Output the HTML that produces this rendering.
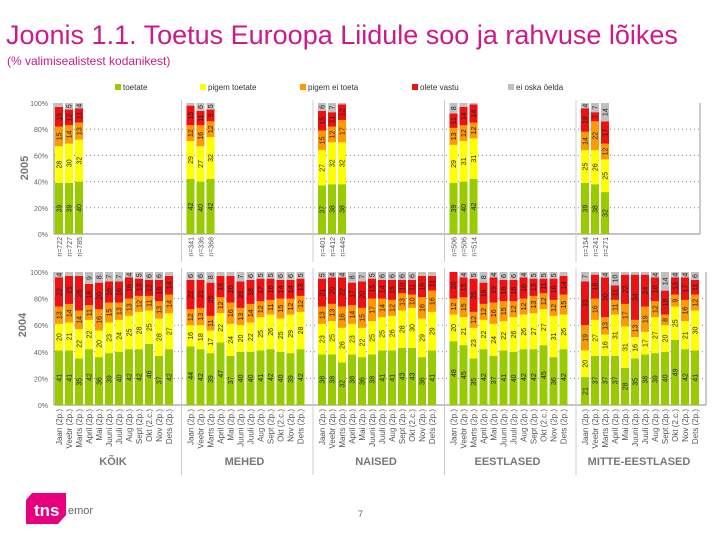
<!DOCTYPE html>
<html><head><meta charset="utf-8"><style>
body{margin:0;background:#fff;width:720px;height:540px;overflow:hidden;font-family:"Liberation Sans",sans-serif}
</style></head><body>
<svg id="c" width="720" height="540" xmlns="http://www.w3.org/2000/svg" font-family="Liberation Sans, sans-serif">
<text x="6" y="44" font-size="27" fill="#cc1a8a">Joonis 1.1. Toetus Euroopa Liidule soo ja rahvuse lõikes</text>
<text x="7" y="65" font-size="12" fill="#cc1a8a">(% valimisealistest kodanikest)</text>
<g id="legend"></g>
<g id="top"></g>
<g id="bot"></g>
<g>
<path d="M32 493 L66 493 L66 515 L58 524 L26 524 L26 500 Z" fill="#e6007e"/>
<text x="34" y="516" font-size="17" font-weight="bold" fill="#fff">tns</text>
<text x="68" y="514" font-size="11" fill="#666">emor</text>
</g>
<text x="358" y="517" font-size="9" fill="#666">7</text>
</svg>
<script>
const groups=["KÕIK","MEHED","NAISED","EESTLASED","MITTE-EESTLASED"];
const seriesNames=["toetate","pigem toetate","pigem ei toeta","olete vastu","ei oska öelda"];
const colors=["#99cc00","#ffff00","#ff9900","#ee1111","#c0c0c0"];
const yTicks=[0,20,40,60,80,100];
const months=["Jaan (2p.)","Veebr (2p.)","Marts (2p.)","April (2p.)","Mai (2p.)","Juuni (2p.)","Juuli (2p.)","Aug (2p.)","Sept (2p.)","Okt (2.c.)","Nov (2p.)","Dets (2p.)"];
const nLabels=[["n=722","n=727","n=785"],["n=341","n=336","n=368"],["n=401","n=412","n=449"],["n=506","n=506","n=514"],["n=154","n=241","n=271"]];
// 2005: per group, per bar [toetate, pigem toetate, pigem ei toeta, olete vastu]
const top2005=[
[[39,28,15,15],[39,30,14,12],[40,32,13,11]],
[[42,29,12,15],[40,27,16,11],[42,32,12,9]],
[[37,27,15,15],[38,32,12,11],[38,32,17,12]],
[[39,29,13,11],[40,31,12,14],[42,31,12,14]],
[[39,25,14,18],[38,26,22,7],[32,25,12,17]]];
const g2004=[[41,41,35,42,36,39,40,42,42,46,37,42],[44,42,39,47,37,40,40,41,42,40,39,42],[38,38,32,38,36,38,41,41,43,43,36,41],[48,45,35,42,37,41,40,42,42,45,36,42],[21,37,37,37,28,35,38,39,40,49,42,41]];
const y2004=[[20,21,22,22,20,23,24,25,28,25,28,27],[16,18,17,22,24,20,22,25,26,25,29,28],[23,25,26,23,22,25,25,26,28,30,29,29],[20,21,23,22,24,22,26,26,27,27,31,26],[20,27,16,31,31,16,17,27,20,25,21,30]];
const o2004=[[13,14,14,11,16,15,13,13,12,11,13,14],[12,13,11,12,16,13,14,12,11,15,12,12],[13,13,16,14,15,17,14,12,13,10,16,16],[12,15,12,12,16,15,12,12,13,12,12,15],[19,16,13,11,17,13,19,12,8,9,16,12]];
const r2004=[[22,21,26,16,20,16,16,16,13,12,16,14],[22,21,25,16,20,20,18,17,16,14,14,13],[21,20,22,17,20,15,14,15,10,11,16,11],[20,15,25,16,19,16,16,16,13,11,16,14],[33,18,30,11,22,34,24,18,18,13,17,11]];

const NS="http://www.w3.org/2000/svg";
function mk(p,t,a){const e=document.createElementNS(NS,t);for(const k in a)e.setAttribute(k,a[k]);p.appendChild(e);return e;}
const gx=i=>55+131.5*i, slot=10, bw=8;
function yScale(top,bot){return v=>bot-(bot-top)*v/100;}

function axes(g,top,bot,right){
 const y=yScale(top,bot);
 yTicks.forEach(t=>{
  if(t>0&&t<100){const l=mk(g,'line',{x1:54,x2:right,y1:y(t),y2:y(t),stroke:'#888','stroke-dasharray':'1,3'});
   }
  const tx=mk(g,'text',{x:48,y:y(t)+3,'font-size':7,fill:'#666','text-anchor':'end'});tx.textContent=t+'%';
  
 });
 mk(g,'line',{x1:54,x2:54,y1:top,y2:bot,stroke:'#888'});
 mk(g,'line',{x1:54,x2:right,y1:bot,y2:bot,stroke:'#888'});
 mk(g,'line',{x1:right,x2:right,y1:top,y2:bot,stroke:'#999'});
}
function bar(g,x,vals,y){
 let acc=0;const full=vals.concat([Math.max(0,100-vals.reduce((a,b)=>a+b,0))]);
 full.forEach((v,s)=>{
  const r=mk(g,'rect',{x:x,y:y(acc+v),width:bw,height:y(acc)-y(acc+v),fill:colors[s]});
  
  if(v>=4){const cx=x+bw/2+2.5,cy=(y(acc)+y(acc+v))/2;
   const t=mk(g,'text',{x:cx,y:cy,'font-size':7,fill:'#222','text-anchor':'middle',transform:`rotate(-90 ${cx} ${cy})`});
   t.textContent=v;}
  acc+=v;
 });
}
// legend
const lg=document.getElementById('legend');
[115,200,300,412,508].forEach((lx,i)=>{
 const r=mk(lg,'rect',{x:lx,y:84,width:6,height:6,fill:colors[i]});
 
 const t=mk(lg,'text',{x:lx+8,y:90,'font-size':8,fill:'#333'});t.textContent=seriesNames[i];
 
});
// top
const tg=document.getElementById('top');const yt=yScale(103,234);
axes(tg,103,234,700);
top2005.forEach((grp,gi)=>grp.forEach((v,bi)=>{
 const x=gx(gi)+bi*slot;bar(tg,x,v,yt);
 const cx=x+bw/2+3,cy=237;
 const t=mk(tg,'text',{x:cx,y:cy,'font-size':7,fill:'#555','text-anchor':'end',transform:`rotate(-90 ${cx} ${cy})`});
 t.textContent=nLabels[gi][bi];
}));
const yl1=mk(tg,'text',{x:28,y:168,'font-size':11,'font-weight':'bold',fill:'#777','text-anchor':'middle',transform:'rotate(-90 28 168)'});yl1.textContent='2005';

// bottom
const bg=document.getElementById('bot');const yb=yScale(272,405);
axes(bg,272,405,706);
[1,2,3,4].forEach(i=>{const l=mk(bg,'line',{x1:gx(i)-5,x2:gx(i)-5,y1:268,y2:475,stroke:'#ccc'});
 });
[1,2,3,4].forEach(i=>mk(tg,'line',{x1:gx(i)-5,x2:gx(i)-5,y1:100,y2:262,stroke:'#ccc'}));
groups.forEach((gname,gi)=>{
 months.forEach((m,mi)=>{
  const x=gx(gi)+mi*slot;bar(bg,x,[g2004[gi][mi],y2004[gi][mi],o2004[gi][mi],r2004[gi][mi]],yb);
  const cx=x+bw/2+3,cy=409;
  const t=mk(bg,'text',{x:cx,y:cy,'font-size':8,fill:'#555','text-anchor':'end',transform:`rotate(-90 ${cx} ${cy})`});
  t.textContent=m;
 });
 const t=mk(bg,'text',{x:gx(gi)+58,y:465,'font-size':11,'font-weight':'bold',fill:'#777','text-anchor':'middle'});
 t.textContent=gname;
});
const yl2=mk(bg,'text',{x:26,y:325,'font-size':11,'font-weight':'bold',fill:'#777','text-anchor':'middle',transform:'rotate(-90 26 325)'});yl2.textContent='2004';

</script>
</body></html>
